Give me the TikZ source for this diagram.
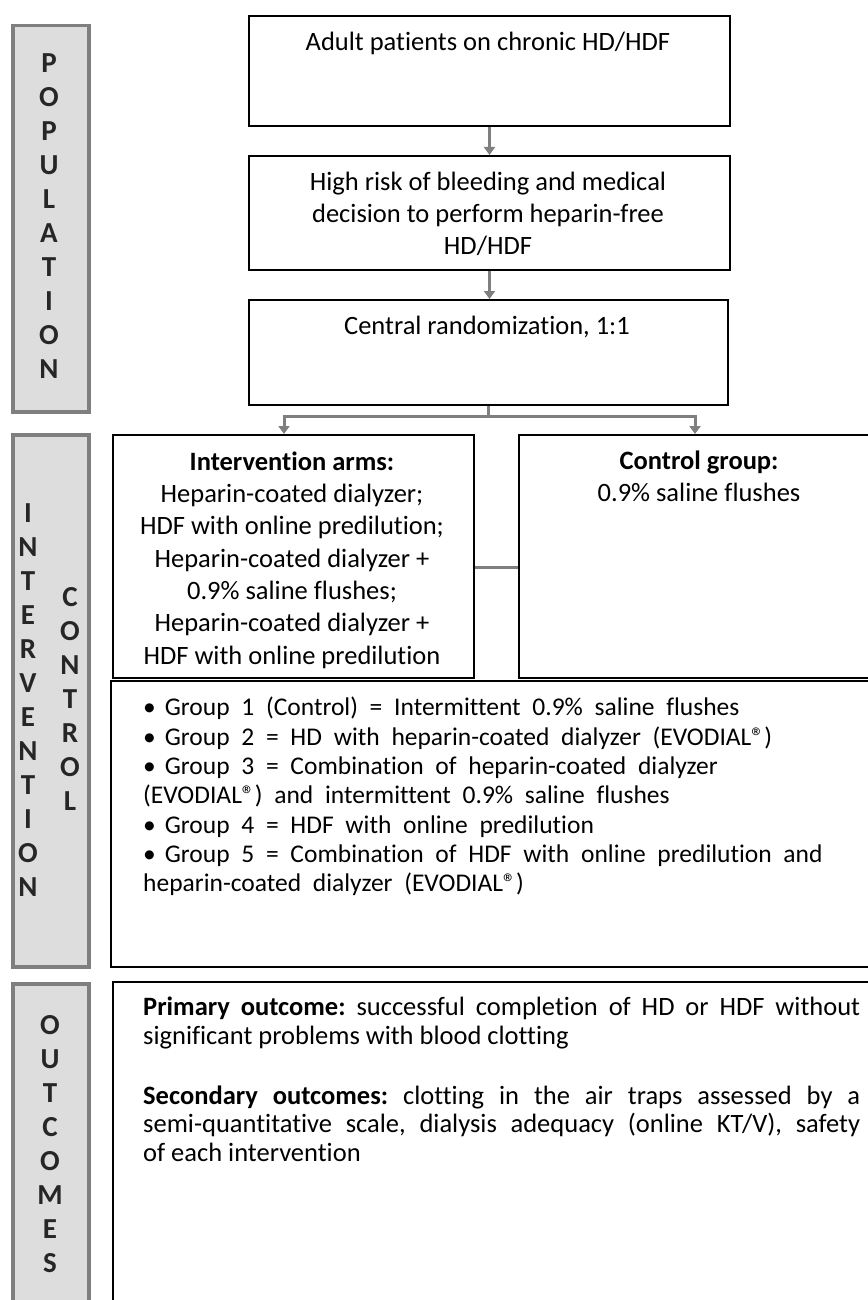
\documentclass[tikz,border=0pt]{standalone}
\usepackage{fontspec}
\setmainfont{Carlito}[Ligatures=CommonOff]
\usetikzlibrary{arrows.meta}
\definecolor{lgray}{HTML}{DDDDDD}
\definecolor{dgray}{HTML}{7F7F7F}
\newcommand\grpfont{\fontsize{25.5}{29.3}\selectfont\spaceskip 0.46em plus 0.1em\relax}
\newcommand\regmark{®}
\newcommand\bul{•\hspace{9pt}}
\frenchspacing
\begin{document}
\begin{tikzpicture}[x=1pt,y=-1pt,
  box/.style={draw=black, line width=2pt, fill=white, inner sep=0pt, anchor=north west},
  lab/.style={draw=dgray, line width=3.5pt, fill=lgray, inner sep=0pt, anchor=north west},
  vlet/.style={font=\fontsize{29}{34}\selectfont\bfseries, align=center, inner sep=0pt, text=black!85},
  txt/.style={font=\fontsize{26.5}{32.3}\selectfont, align=center, inner sep=0pt},
  gtxt/.style={font=\grpfont, align=left, inner sep=0pt},
  otxt/.style={font=\fontsize{26.5}{28.3}\selectfont, text width=717pt, align=justify, inner sep=0pt},
  conn/.style={draw=dgray, line width=3pt},
  arr/.style={conn, -{Triangle[length=8pt,width=11pt]}},
]
\useasboundingbox (0,0) rectangle (867,1300);

% side labels
\node[lab, minimum width=76, minimum height=386] (lpop) at (11,24) {};
\node[lab, minimum width=76, minimum height=532] (lint) at (11,433) {};
\node[lab, minimum width=76, minimum height=340] (lout) at (11,982) {};
\node[vlet] (tpop) at (49,216) {P\\O\\P\\U\\L\\A\\T\\I\\O\\N};
\node[vlet] (tint) at (28,700) {I\\N\\T\\E\\R\\V\\E\\N\\T\\I\\O\\N};
\node[vlet] (tcon) at (70,699) {C\\O\\N\\T\\R\\O\\L};
\node[vlet] (tout) at (50,1144) {O\\U\\T\\C\\O\\M\\E\\S};

% boxes
\node[box, minimum width=481, minimum height=110] (b1) at (248,15) {};
\node[box, minimum width=481, minimum height=114] (b2) at (248,155) {};
\node[box, minimum width=479, minimum height=105] (b3) at (248,299) {};
\node[box, minimum width=361, minimum height=243] (bi) at (112,434) {};
\node[box, minimum width=362, minimum height=243] (bc) at (518,434) {};
\node[box, minimum width=770, minimum height=286] (bg) at (110,680) {};
\node[box, minimum width=770, minimum height=340] (bo) at (112,981) {};

% connectors
\coordinate (al) at (284,416);
\coordinate (ar) at (695,416);
\coordinate (mid) at (495,567);
\draw[arr] (b1.south) -- (b2.north);
\draw[arr] (b2.south) -- (b2.south |- b3.north);
\draw[conn] (b3.south) -- (b3.south |- al);
\draw[arr] (b3.south |- al) -- (al) -- (al |- bi.north);
\draw[arr] (b3.south |- ar) -- (ar) -- (ar |- bc.north);
\draw[conn] (bi.east |- mid) -- (bc.west |- mid);

% texts
\node[txt] (t1) at (488,43) {Adult patients on chronic HD/HDF};
\node[txt] (t2) at (488,214) {High risk of bleeding and medical\\decision to perform heparin-free\\HD/HDF};
\node[txt] (t3) at (487,327) {Central randomization, 1:1};
\node[txt] (ti) at (292,560) {\textbf{Intervention arms:}\\Heparin-coated dialyzer;\\HDF with online predilution;\\Heparin-coated dialyzer +\\0.9\% saline flushes;\\Heparin-coated dialyzer +\\HDF with online predilution};
\node[txt] (tc) at (699,476) {\textbf{Control group:}\\0.9\% saline flushes};
\node[gtxt, anchor=north west] (tg) at (143,697) {%
\bul Group 1 (Control) = Intermittent 0.9\% saline flushes\\
\bul Group 2 = HD with heparin-coated dialyzer (EVODIAL\regmark)\\
\bul Group 3 = Combination of heparin-coated dialyzer\\
(EVODIAL\regmark) and intermittent 0.9\% saline flushes\\
\bul Group 4 = HDF with online predilution\\
\bul Group 5 = Combination of HDF with online predilution and\\
heparin-coated dialyzer (EVODIAL\regmark)};
\node[otxt, anchor=north west] (to) at (143,997) {%
\textbf{Primary outcome:} successful completion of HD or HDF without\linebreak
significant problems with blood clotting\par\vspace{32pt}
\textbf{Secondary outcomes:} clotting in the air traps assessed by a\linebreak
semi-quantitative scale, dialysis adequacy (online KT/V), safety\linebreak
of each intervention};
\end{tikzpicture}
\end{document}
